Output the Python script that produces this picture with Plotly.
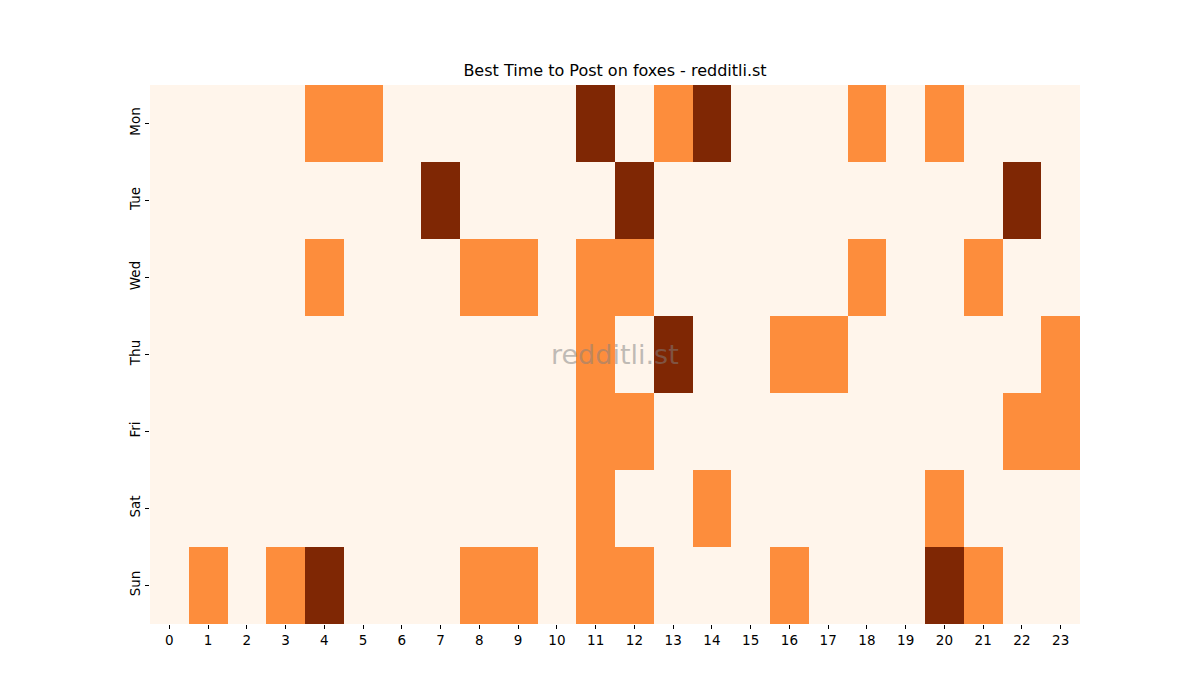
import plotly.graph_objects as go

days = ["Mon", "Tue", "Wed", "Thu", "Fri", "Sat", "Sun"]
hours = list(range(24))

# 0 = low, 1 = medium, 2 = high
mon = [0,0,0,0,1,1,0,0,0,0,0,2,0,1,2,0,0,0,1,0,1,0,0,0]
tue = [0,0,0,0,0,0,0,2,0,0,0,0,2,0,0,0,0,0,0,0,0,0,2,0]
wed = [0,0,0,0,1,0,0,0,1,1,0,1,1,0,0,0,0,0,1,0,0,1,0,0]
thu = [0,0,0,0,0,0,0,0,0,0,0,1,0,2,0,0,1,1,0,0,0,0,0,1]
fri = [0,0,0,0,0,0,0,0,0,0,0,1,1,0,0,0,0,0,0,0,0,0,1,1]
sat = [0,0,0,0,0,0,0,0,0,0,0,1,0,0,1,0,0,0,0,0,1,0,0,0]
sun = [0,1,0,1,2,0,0,0,1,1,0,1,1,0,0,0,1,0,0,0,2,1,0,0]

z = [mon, tue, wed, thu, fri, sat, sun]

fig = go.Figure(go.Heatmap(
    z=z, x=hours, y=days,
    colorscale=[[0, "#fff5eb"], [0.5, "#fd8d3c"], [1, "#7f2704"]],
    zmin=0, zmax=2, showscale=False, xgap=0, ygap=0,
))

fig.update_layout(
    width=1200, height=700,
    margin=dict(l=142, r=128, t=77, b=84),
    paper_bgcolor="white", plot_bgcolor="white",
    font=dict(family="DejaVu Sans", size=13.5, color="black"),
    title=dict(text="Best Time to Post on foxes - redditli.st", x=(142 + 465) / 1200, xanchor="center",
               y=1 - 68/700, yanchor="bottom", font=dict(size=16)),
    xaxis=dict(tickmode="array", tickvals=hours, ticktext=[str(h) for h in hours],
               ticks="outside", ticklen=4, tickcolor="black", showgrid=False,
               zeroline=False, showline=False, range=[-0.5, 23.5]),
    yaxis=dict(autorange="reversed", ticks="outside", ticklen=4, tickcolor="black",
               tickangle=-90, showgrid=False, zeroline=False, showline=False),
    annotations=[dict(text="redditli.st", x=0.5, y=0.5, xref="paper", yref="paper",
                      showarrow=False, font=dict(size=27, color="rgba(128,128,128,0.5)"))],
)

fig.write_html("out.html")
